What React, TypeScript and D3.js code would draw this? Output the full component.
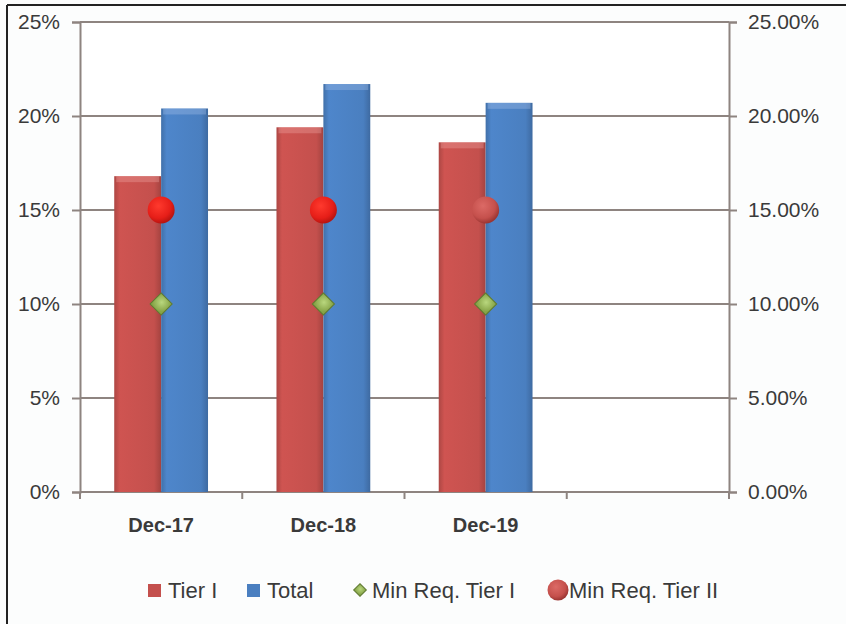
import { useEffect, useRef } from 'react'
import * as d3 from 'd3'

const categories = ['Dec-17', 'Dec-18', 'Dec-19', '']
const tier1 = [16.8, 19.4, 18.6]
const total = [20.4, 21.7, 20.7]
const minReqTier1 = [10, 10, 10]
const minReqTier2 = [15, 15, 15]
const yTicks = [0, 5, 10, 15, 20, 25]

const FONT = "'Liberation Sans', Arial, sans-serif"

export default function App() {
  const svgRef = useRef<SVGSVGElement>(null)

  useEffect(() => {
    if (!svgRef.current) return
    const svg = d3.select(svgRef.current)
    svg.selectAll('*').remove()

    const width = 846
    const height = 624
    const left = 80
    const right = 729
    const top = 22
    const bottom = 492
    const gridColor = '#8e8480'
    const textColor = '#3a3a3a'

    svg.attr('width', width).attr('height', height)

    const defs = svg.append('defs')
    const mkGrad = (id: string, c: string) => {
      const g = defs.append('linearGradient').attr('id', id).attr('x1', '0').attr('x2', '1').attr('y1', '0').attr('y2', '0')
      const base = d3.color(c)!
      g.append('stop').attr('offset', '0%').attr('stop-color', base.darker(0.35).formatHex())
      g.append('stop').attr('offset', '12%').attr('stop-color', base.brighter(0.15).formatHex())
      g.append('stop').attr('offset', '85%').attr('stop-color', base.formatHex())
      g.append('stop').attr('offset', '100%').attr('stop-color', base.darker(0.5).formatHex())
    }
    mkGrad('gRed', '#c4504d')
    mkGrad('gBlue', '#4a7fc0')
    const rg = defs.append('radialGradient').attr('id', 'gBall').attr('cx', '40%').attr('cy', '35%').attr('r', '65%')
    rg.append('stop').attr('offset', '0%').attr('stop-color', '#ff3a2e')
    rg.append('stop').attr('offset', '70%').attr('stop-color', '#e61e18')
    rg.append('stop').attr('offset', '100%').attr('stop-color', '#b81410')
    const rg2 = defs.append('radialGradient').attr('id', 'gBall2').attr('cx', '40%').attr('cy', '35%').attr('r', '65%')
    rg2.append('stop').attr('offset', '0%').attr('stop-color', '#dc6a66')
    rg2.append('stop').attr('offset', '70%').attr('stop-color', '#c5504c')
    rg2.append('stop').attr('offset', '100%').attr('stop-color', '#9b3532')
    const dg = defs.append('radialGradient').attr('id', 'gDia').attr('cx', '45%').attr('cy', '40%').attr('r', '60%')
    dg.append('stop').attr('offset', '0%').attr('stop-color', '#b9d77e')
    dg.append('stop').attr('offset', '100%').attr('stop-color', '#86a447')

    // background + frame
    svg.append('rect').attr('width', width).attr('height', height).attr('fill', '#fcfdfd')
    svg.append('rect').attr('x', left).attr('y', top).attr('width', right - left).attr('height', bottom - top).attr('fill', '#ffffff')
    svg.append('line').attr('x1', 7).attr('x2', 7).attr('y1', 5).attr('y2', height).attr('stroke', '#222').attr('stroke-width', 2)
    svg.append('line').attr('x1', 7).attr('x2', width).attr('y1', 5).attr('y2', 5).attr('stroke', '#222').attr('stroke-width', 2)

    const x = d3.scaleBand().domain(categories).range([left, right]).paddingInner(0).paddingOuter(0)
    const inner = d3.scaleBand().domain(['t1', 'tot']).range([0, x.bandwidth()]).paddingInner(0).paddingOuter(0.73)
    const y = d3.scaleLinear().domain([0, 25]).range([bottom, top])
    const y2 = d3.scaleLinear().domain([0, 0.25]).range([bottom, top])

    // gridlines
    svg.append('g').selectAll('line').data(yTicks).join('line')
      .attr('x1', left).attr('x2', right)
      .attr('y1', d => y(d)).attr('y2', d => y(d))
      .attr('stroke', gridColor).attr('stroke-width', 2)

    // axes
    const axL = svg.append('g').attr('transform', `translate(${left},0)`)
      .call(d3.axisLeft(y).tickValues(yTicks).tickSize(8).tickFormat(d => `${d}%`))
    const axR = svg.append('g').attr('transform', `translate(${right},0)`)
      .call(d3.axisRight(y2).tickValues(yTicks.map(v => v / 100)).tickSize(8).tickFormat(d3.format('.2%')))
    const axB = svg.append('g').attr('transform', `translate(0,${bottom})`)
      .call(d3.axisBottom(x).tickSize(0).tickFormat(d => d as string))
    ;[axL, axR, axB].forEach(a => {
      a.attr('font-size', null).attr('font-family', null)
      a.select('.domain').attr('stroke', gridColor).attr('stroke-width', 2)
      a.selectAll('.tick line').attr('stroke', gridColor).attr('stroke-width', 2)
      a.selectAll('text').attr('fill', textColor).style('font-family', FONT).style('font-size', '21px')
    })
    axL.selectAll('text').attr('x', -20)
    axR.selectAll('text').attr('x', 19)
    axB.select('.domain').remove()
    axB.selectAll('text').attr('dy', '1.85em').style('font-weight', 'bold').style('font-size', '20px')

    // category boundary ticks on x axis
    const bounds = categories.map(c => x(c)!).concat([right])
    svg.append('g').selectAll('line').data(bounds).join('line')
      .attr('x1', d => d).attr('x2', d => d)
      .attr('y1', bottom).attr('y2', bottom + 7)
      .attr('stroke', gridColor).attr('stroke-width', 2)

    // bars
    const drawBars = (vals: number[], key: string, fill: string) => {
      svg.append('g').selectAll('rect').data(vals).join('rect')
        .attr('x', (_, i) => x(categories[i])! + inner(key)!)
        .attr('y', d => y(d))
        .attr('width', inner.bandwidth())
        .attr('height', d => bottom - y(d))
        .attr('fill', fill)
    }
    drawBars(tier1, 't1', 'url(#gRed)')
    drawBars(total, 'tot', 'url(#gBlue)')
    // top bevel highlights
    const bevel = (vals: number[], key: string, c: string) => {
      svg.append('g').selectAll('rect').data(vals).join('rect')
        .attr('x', (_, i) => x(categories[i])! + inner(key)! + 2)
        .attr('y', d => y(d))
        .attr('width', inner.bandwidth() - 4)
        .attr('height', 6)
        .attr('fill', c).attr('opacity', 0.35)
    }
    bevel(tier1, 't1', '#f0a8a6')
    bevel(total, 'tot', '#a9c4ea')

    // markers
    const cx = (i: number) => x(categories[i])! + x.bandwidth() / 2
    const diamond = d3.symbol().type(d3.symbolSquare).size(245)
    svg.append('g').selectAll('path').data(minReqTier1).join('path')
      .attr('d', diamond)
      .attr('transform', (d, i) => `translate(${cx(i)},${y(d)}) rotate(45)`)
      .attr('fill', 'url(#gDia)').attr('stroke', '#5f7a30').attr('stroke-width', 1)
    svg.append('g').selectAll('circle').data(minReqTier2).join('circle')
      .attr('cx', (_, i) => cx(i)).attr('cy', d => y(d)).attr('r', 13.5)
      .attr('fill', (_, i) => (i < 2 ? 'url(#gBall)' : 'url(#gBall2)'))

    // legend
    const ly = 590
    const lg = svg.append('g').style('font-family', FONT).style('font-size', '22px').attr('fill', textColor)
    lg.append('rect').attr('x', 148).attr('y', ly - 6).attr('width', 13).attr('height', 13).attr('fill', '#c4504d')
    lg.append('text').attr('x', 168).attr('y', ly).attr('dy', '0.35em').text('Tier I')
    lg.append('rect').attr('x', 247).attr('y', ly - 6).attr('width', 13).attr('height', 13).attr('fill', '#4a7fc0')
    lg.append('text').attr('x', 267).attr('y', ly).attr('dy', '0.35em').text('Total')
    lg.append('path').attr('d', d3.symbol().type(d3.symbolSquare).size(80)).attr('transform', `translate(360,${ly}) rotate(45)`)
      .attr('fill', 'url(#gDia)').attr('stroke', '#5f7a30')
    lg.append('text').attr('x', 372).attr('y', ly).attr('dy', '0.35em').text('Min Req. Tier I')
    lg.append('circle').attr('cx', 558).attr('cy', ly).attr('r', 10.5).attr('fill', 'url(#gBall2)')
    lg.append('text').attr('x', 569).attr('y', ly).attr('dy', '0.35em').text('Min Req. Tier II')
  }, [])

  return <svg ref={svgRef} style={{ position: 'absolute', top: 0, left: 0 }} />
}
